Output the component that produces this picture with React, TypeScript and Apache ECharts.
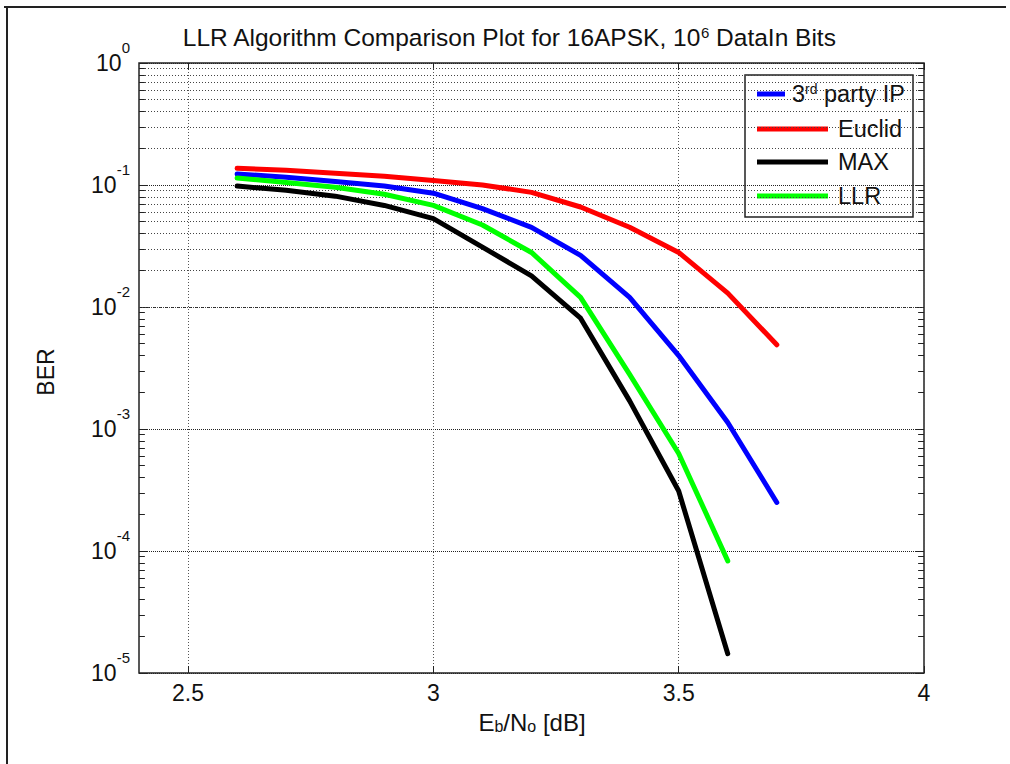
import React, { useEffect, useRef } from 'react';
import * as echarts from 'echarts';

// ---- data ----
const EBNO_DB = [2.6, 2.7, 2.8, 2.9, 3.0, 3.1, 3.2, 3.3, 3.4, 3.5, 3.6, 3.7];
const BER_THIRD_PARTY = [0.123, 0.116, 0.107, 0.098, 0.0857, 0.064, 0.045, 0.0265, 0.012, 0.004, 0.00113, 0.00025];
const BER_EUCLID = [0.137, 0.132, 0.125, 0.118, 0.109, 0.1, 0.087, 0.066, 0.045, 0.028, 0.013, 0.0049];
const BER_MAX = [0.098, 0.0906, 0.081, 0.068, 0.053, 0.031, 0.018, 0.0081, 0.0017, 0.00031, 0.0000144];
const BER_LLR = [0.114, 0.105, 0.096, 0.084, 0.068, 0.047, 0.028, 0.012, 0.0028, 0.00063, 0.000083];

const SERIES_NAMES = ['3rd party IP', 'Euclid', 'MAX', 'LLR'];
const SERIES_COLORS = ['#0000ff', '#ff0000', '#000000', '#00ff00'];

const X_TICKS = [2.5, 3, 3.5, 4];
const X_MIN = 2.4;
const X_MAX = 4;
const Y_MIN = 1e-5;
const Y_MAX = 1;
const DECADES = [1e-5, 1e-4, 1e-3, 1e-2, 1e-1];
const MINOR_STEPS = [2, 3, 4, 5, 6, 7, 8, 9];

const FONT = '"Liberation Sans", Arial, sans-serif';
const TEXT_COLOR = '#111';

const toPairs = (ys: number[]) => ys.map((y, i) => [EBNO_DB[i], y]);

const MINOR_VALUES: number[] = [];
DECADES.forEach((d) => MINOR_STEPS.forEach((m) => MINOR_VALUES.push(+(m * d).toPrecision(3))));

const TICK_DX = 0.012;

export default function App() {
  const ref = useRef<HTMLDivElement>(null);

  useEffect(() => {
    if (!ref.current) return;
    const chart = echarts.init(ref.current, undefined, { renderer: 'svg' });

    const seriesData = [BER_THIRD_PARTY, BER_EUCLID, BER_MAX, BER_LLR];

    const lineSeries = seriesData.map((d, i) => ({
      name: SERIES_NAMES[i],
      type: 'line',
      data: toPairs(d),
      showSymbol: false,
      symbol: 'none',
      z: 3,
      lineStyle: { color: SERIES_COLORS[i], width: 5, cap: 'round', join: 'round' },
      itemStyle: { color: SERIES_COLORS[i] },
      emphasis: { disabled: true },
    }));

    const minorGrid = {
      name: 'minorGrid',
      type: 'line',
      data: [],
      z: 1,
      markLine: {
        z: 1,
        silent: true,
        symbol: ['none', 'none'],
        label: { show: false },
        emphasis: { disabled: true },
        animation: false,
        lineStyle: { color: '#444', type: [1, 2], width: 1 },
        data: MINOR_VALUES.map((v) => ({ yAxis: v })),
      },
    };

    const minorTicks = {
      name: 'minorTicks',
      type: 'line',
      data: [],
      z: 2,
      markLine: {
        z: 2,
        silent: true,
        symbol: ['none', 'none'],
        label: { show: false },
        emphasis: { disabled: true },
        animation: false,
        lineStyle: { color: '#222', type: 'solid', width: 1 },
        data: [
          ...MINOR_VALUES.map((v) => [{ coord: [X_MIN, v] }, { coord: [X_MIN + TICK_DX, v] }]),
          ...MINOR_VALUES.map((v) => [{ coord: [X_MAX - TICK_DX, v] }, { coord: [X_MAX, v] }]),
        ],
      },
    };

    const yLabelRich = {
      b: { fontSize: 23, fontFamily: FONT, color: TEXT_COLOR, padding: [12, 0, 12, 0] },
      e: { fontSize: 15, fontFamily: FONT, color: TEXT_COLOR, verticalAlign: 'top' },
    };

    const option: any = {
      animation: false,
      backgroundColor: '#ffffff',
      grid: {
        left: 139,
        top: 63,
        right: 86,
        bottom: 91,
        show: true,
        borderColor: '#222',
        borderWidth: 1.5,
        backgroundColor: 'transparent',
      },
      xAxis: [
        {
          type: 'value',
          min: X_MIN,
          max: X_MAX,
          position: 'bottom',
          axisLine: { show: false },
          axisTick: { show: true, inside: true, length: 7, customValues: X_TICKS, lineStyle: { color: '#222' } },
          axisLabel: {
            show: true,
            customValues: X_TICKS,
            margin: 8,
            fontSize: 23,
            fontFamily: FONT,
            color: TEXT_COLOR,
            formatter: (v: number) => String(v),
          },
          splitLine: { show: true, lineStyle: { color: '#555', type: [1, 2], width: 1 } },
        },
        {
          type: 'value',
          min: X_MIN,
          max: X_MAX,
          position: 'top',
          axisLine: { show: false },
          axisTick: { show: true, inside: true, length: 7, customValues: X_TICKS, lineStyle: { color: '#222' } },
          axisLabel: { show: false, customValues: X_TICKS },
          splitLine: { show: false },
        },
      ],
      yAxis: [
        {
          type: 'log',
          logBase: 10,
          min: Y_MIN,
          max: Y_MAX,
          interval: 1,
          position: 'left',
          axisLine: { show: false },
          axisTick: { show: true, inside: true, length: 8, lineStyle: { color: '#222' } },
          axisLabel: {
            show: true,
            margin: 9,
            formatter: (v: number) => `{b|10}{e|${Math.round(Math.log10(v))}}`,
            rich: yLabelRich,
          },
          splitLine: { show: true, lineStyle: { color: '#222', type: [1, 1], width: 1.2 } },
        },
        {
          type: 'log',
          logBase: 10,
          min: Y_MIN,
          max: Y_MAX,
          interval: 1,
          position: 'right',
          axisLine: { show: false },
          axisTick: { show: true, inside: true, length: 8, lineStyle: { color: '#222' } },
          axisLabel: { show: false },
          splitLine: { show: false },
        },
      ],
      series: [minorGrid, minorTicks, ...lineSeries],
      graphic: [
        // figure frame edges
        { type: 'line', shape: { x1: 4, y1: 7, x2: 1006, y2: 7 }, style: { stroke: '#222', lineWidth: 2 }, silent: true },
        { type: 'line', shape: { x1: 7, y1: 7, x2: 7, y2: 764 }, style: { stroke: '#222', lineWidth: 2 }, silent: true },
        // title
        {
          type: 'text',
          x: 509,
          y: 37,
          z: 100,
          style: {
            text: '{t|LLR Algorithm Comparison Plot for 16APSK, 10}{s|6}{t| DataIn Bits}',
            align: 'center',
            verticalAlign: 'middle',
            fill: TEXT_COLOR,
            rich: {
              t: { fontSize: 24.5, fontFamily: FONT, fill: TEXT_COLOR },
              s: { fontSize: 15, fontFamily: FONT, fill: TEXT_COLOR, verticalAlign: 'top' },
            },
          },
        },
        // y axis name
        {
          type: 'text',
          x: 46,
          y: 372,
          rotation: Math.PI / 2,
          z: 100,
          style: {
            text: 'BER',
            align: 'center',
            verticalAlign: 'middle',
            fontSize: 23,
            fontFamily: FONT,
            fill: TEXT_COLOR,
          },
        },
        // x axis name
        {
          type: 'text',
          x: 532,
          y: 722,
          z: 100,
          style: {
            text: '{m|E}{u|b}{m|/N}{u|o}{m| [dB]}',
            align: 'center',
            verticalAlign: 'middle',
            fill: TEXT_COLOR,
            rich: {
              m: { fontSize: 24, fontFamily: FONT, fill: TEXT_COLOR },
              u: { fontSize: 16, fontFamily: FONT, fill: TEXT_COLOR, verticalAlign: 'bottom' },
            },
          },
        },
        // legend
        {
          type: 'group',
          z: 100,
          children: [
            {
              type: 'rect',
              shape: { x: 745, y: 75, width: 168, height: 142 },
              style: { fill: '#ffffff', stroke: '#222', lineWidth: 1.5 },
            },
            { type: 'line', shape: { x1: 757, y1: 94, x2: 785, y2: 94 }, style: { stroke: SERIES_COLORS[0], lineWidth: 5 } },
            { type: 'line', shape: { x1: 757, y1: 129, x2: 828, y2: 129 }, style: { stroke: SERIES_COLORS[1], lineWidth: 5 } },
            { type: 'line', shape: { x1: 757, y1: 162, x2: 828, y2: 162 }, style: { stroke: SERIES_COLORS[2], lineWidth: 5 } },
            { type: 'line', shape: { x1: 757, y1: 196, x2: 828, y2: 196 }, style: { stroke: SERIES_COLORS[3], lineWidth: 5 } },
            {
              type: 'text',
              x: 792,
              y: 94,
              style: {
                text: '{n|3}{s|rd}{n| party IP}',
                align: 'left',
                verticalAlign: 'middle',
                fill: TEXT_COLOR,
                rich: {
                  n: { fontSize: 23.5, fontFamily: FONT, fill: TEXT_COLOR },
                  s: { fontSize: 14, fontFamily: FONT, fill: TEXT_COLOR, verticalAlign: 'top' },
                },
              },
            },
            {
              type: 'text',
              x: 838,
              y: 129,
              style: { text: SERIES_NAMES[1], align: 'left', verticalAlign: 'middle', fontSize: 23.5, fontFamily: FONT, fill: TEXT_COLOR },
            },
            {
              type: 'text',
              x: 838,
              y: 162,
              style: { text: SERIES_NAMES[2], align: 'left', verticalAlign: 'middle', fontSize: 23.5, fontFamily: FONT, fill: TEXT_COLOR },
            },
            {
              type: 'text',
              x: 838,
              y: 196,
              style: { text: SERIES_NAMES[3], align: 'left', verticalAlign: 'middle', fontSize: 23.5, fontFamily: FONT, fill: TEXT_COLOR },
            },
          ],
        },
      ],
    };

    chart.setOption(option);
    return () => chart.dispose();
  }, []);

  return (
    <div
      ref={ref}
      style={{ position: 'fixed', left: 0, top: 0, width: 1010, height: 764, background: '#fff' }}
    />
  );
}
